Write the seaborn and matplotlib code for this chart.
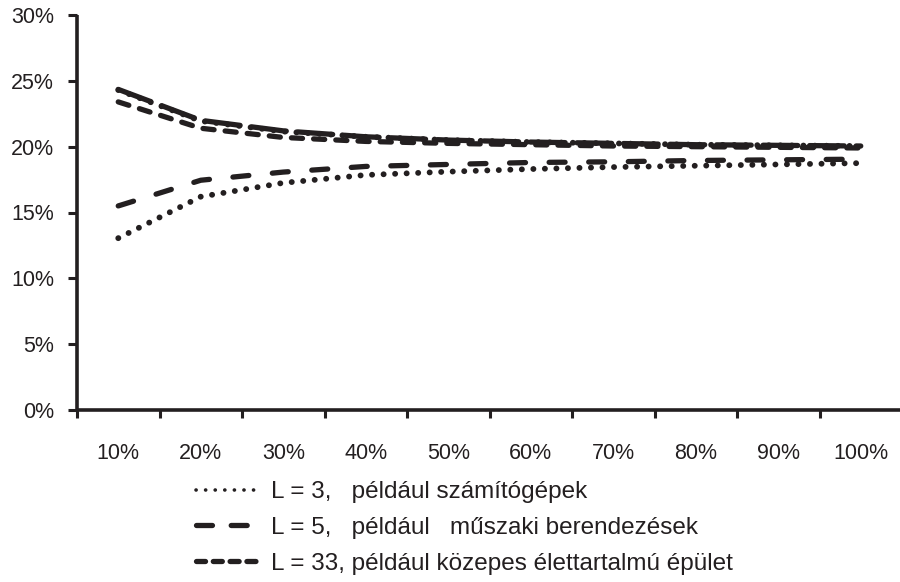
import matplotlib
matplotlib.use("Agg")
import matplotlib.pyplot as plt
import seaborn as sns
import pandas as pd
from matplotlib.lines import Line2D
from matplotlib.ticker import FixedLocator, PercentFormatter

sns.set_theme(style="white")
plt.rcParams['font.family'] = ['Liberation Sans', 'DejaVu Sans']
plt.rcParams['lines.scale_dashes'] = False

INK = "#231f20"

categories = ["10%", "20%", "30%", "40%", "50%", "60%", "70%", "80%", "90%", "100%"]

# L = 3 (dotted)
l3_upper = [24.3, 21.95, 21.15, 20.75, 20.5, 20.35, 20.25, 20.15, 20.1, 20.05]
l3_lower = [13.05, 16.2, 17.25, 17.85, 18.1, 18.3, 18.45, 18.55, 18.65, 18.75]
# L = 5 (long dash)
l5_upper = [24.35, 22.0, 21.2, 20.75, 20.5, 20.35, 20.25, 20.15, 20.1, 20.05]
l5_lower = [15.5, 17.45, 18.07, 18.5, 18.65, 18.8, 18.85, 18.95, 19.0, 19.05]
# L = 33 (short dash)
l33_upper = [23.4, 21.4, 20.7, 20.4, 20.25, 20.15, 20.05, 20.0, 19.95, 19.9]

legend_labels = [
    "L = 3,   például számítógépek",
    "L = 5,   például   műszaki berendezések",
    "L = 33, például közepes élettartalmú épület",
]

fig = plt.figure(figsize=(9.0, 5.82), dpi=100)
ax = fig.add_axes([77 / 900, 172 / 582, 825 / 900, 395 / 582])

LW = 3.8
dot_dash = (0.1, 8.2)
long_dash_low = (11.5, 17.0)
long_dash_up = (25.0, 8.5)
short_dash = (8.0, 8.0)

series = [
    (l3_upper, dot_dash, 4.2),
    (l3_lower, dot_dash, 4.2),
    (l5_upper, long_dash_up, LW),
    (l5_lower, long_dash_low, LW),
    (l33_upper, short_dash, LW),
]

for vals, dsh, lw in series:
    df = pd.DataFrame({"x": categories, "y": vals})
    sns.lineplot(data=df, x="x", y="y", ax=ax, color=INK, linewidth=lw,
                 sort=False, legend=False)
    ln = ax.lines[-1]
    ln.set_dashes(dsh)
    ln.set_dash_capstyle("round")
    ln.set_solid_capstyle("round")

ax.set_xlim(-0.5, 9.5)
ax.set_ylim(0, 30)
ax.set_xlabel("")
ax.set_ylabel("")

FS = 15.5

# y axis
ax.yaxis.set_major_locator(FixedLocator([0, 5, 10, 15, 20, 25, 30]))
ax.yaxis.set_major_formatter(PercentFormatter(decimals=0))
ax.tick_params(axis="y", which="major", direction="out", length=6.5, width=2.2,
               color=INK, labelsize=FS, labelcolor=INK, pad=10, left=True)

# x axis: labels centred, tick marks at boundaries
ax.set_xticks(range(len(categories)))
ax.set_xticklabels(categories)
ax.xaxis.set_minor_locator(FixedLocator([i - 0.5 for i in range(len(categories))]))
ax.tick_params(axis="x", which="major", length=0, labelsize=FS, labelcolor=INK, pad=24)
ax.tick_params(axis="x", which="minor", direction="out", length=6, width=2.2,
               color=INK, bottom=True)

for side in ["top", "right"]:
    ax.spines[side].set_visible(False)
for side in ["left", "bottom"]:
    ax.spines[side].set_color(INK)
    ax.spines[side].set_linewidth(2.6)
    ax.spines[side].set_capstyle("butt")

# legend
LFS = 17.5
handles = [
    Line2D([], [], color=INK, linewidth=2.6, dashes=(0.1, 6.8), dash_capstyle="round"),
    Line2D([], [], color=INK, linewidth=3.8, dashes=(11.5, 13.5), dash_capstyle="round"),
    Line2D([], [], color=INK, linewidth=3.8, dashes=(6.5, 5.6), dash_capstyle="round"),
]
fig.legend(handles, legend_labels, loc="upper left",
           bbox_to_anchor=(196 / 900, 1 - 481 / 582), frameon=False,
           fontsize=LFS, labelcolor=INK, handlelength=47 / LFS, handletextpad=7 / LFS,
           labelspacing=0.57, borderpad=0, borderaxespad=0)

fig.savefig("out.png", dpi=100, facecolor="white")
